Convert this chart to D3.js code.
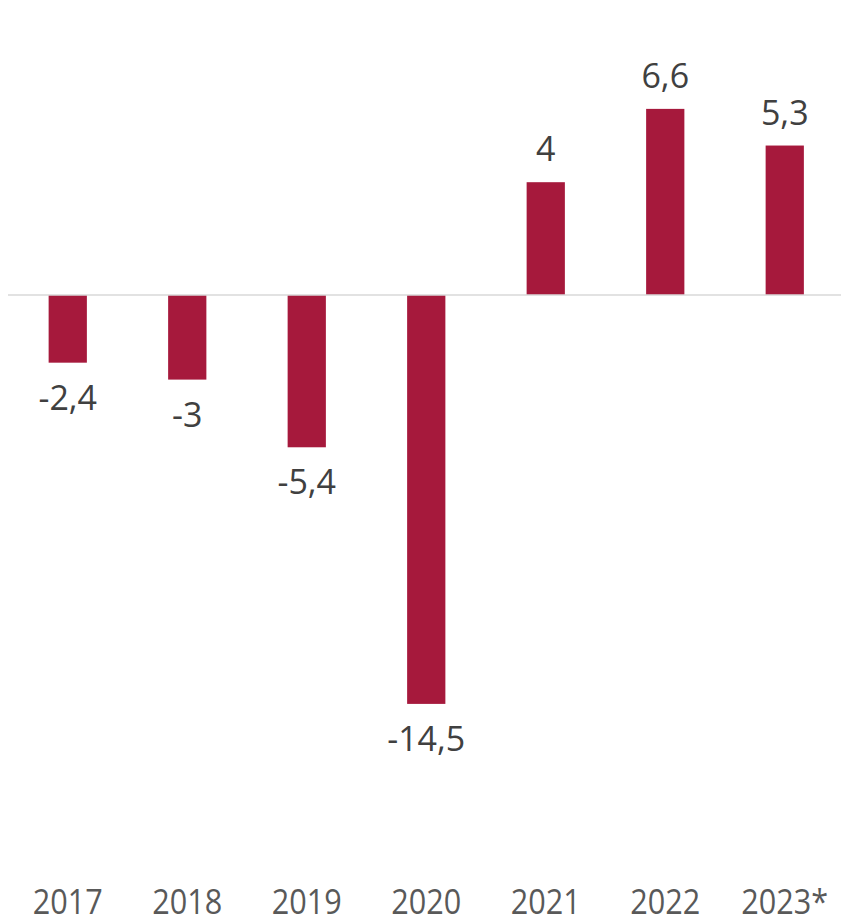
<!DOCTYPE html>
<html>
<head>
<meta charset="utf-8">
<script src="https://cdn.jsdelivr.net/npm/d3@7"></script>
<style>
  body { margin: 0; background: #fff; }
  text { font-family: "Open Sans", sans-serif; }
</style>
</head>
<body>
<svg id="main" width="841" height="922"></svg>
<script>
    const years = ["2017", "2018", "2019", "2020", "2021", "2022", "2023*"];
    const values = [-2.4, -3, -5.4, -14.5, 4, 6.6, 5.3];
    const labels = ["-2,4", "-3", "-5,4", "-14,5", "4", "6,6", "5,3"];

    const width = 841;
    const svg = d3.select('svg#main');

    const data = d3.map(years, (d, i) => ({year: d, value: values[i], label: labels[i]}));

    const xAx = d3.scaleBand()
        .domain(years)
        .range([8, 844.5])
        .paddingInner(0.68)
        .paddingOuter(0.34);

    const yAx = d3.scaleLinear()
        .domain([-20, 10])
        .range([859, 13]);

    // bars
    svg.append("g")
        .selectAll("rect")
        .data(data)
        .enter()
        .append("rect")
        .attr("x", d => xAx(d.year))
        .attr("width", xAx.bandwidth())
        .attr("y", d => yAx(Math.max(0, d.value)))
        .attr("height", d => Math.abs(yAx(d.value) - yAx(0)))
        .attr("fill", "#a6193c");

    // zero line
    svg.append("line")
        .attr("x1", 8)
        .attr("x2", width)
        .attr("y1", yAx(0))
        .attr("y2", yAx(0))
        .attr("stroke", "#d9d9d9")
        .attr("stroke-width", 1.5);

    // value labels
    svg.append("g")
        .selectAll("text")
        .data(data)
        .enter()
        .append("text")
        .attr("x", d => xAx(d.year) + xAx.bandwidth() / 2)
        .attr("y", d => d.value >= 0 ? yAx(d.value) - 21 : yAx(d.value) + 47)
        .attr("text-anchor", "middle")
        .attr("font-size", "34px")
        .attr("fill", "#404040")
        .text(d => d.label);

    // x axis labels (narrow like the original)
    const xAxis = svg.append("g")
        .attr("transform", "translate(0,914)")
        .call(d3.axisBottom(xAx).tickSize(0).tickPadding(0));
    xAxis.select(".domain").remove();
    xAxis.selectAll("text")
        .attr("y", 0)
        .attr("dy", 0)
        .attr("font-size", "34px")
        .attr("font-family", "Open Sans, sans-serif")
        .attr("fill", "#595959")
        .attr("transform", "scale(0.9,1)");
</script>
</body>
</html>
